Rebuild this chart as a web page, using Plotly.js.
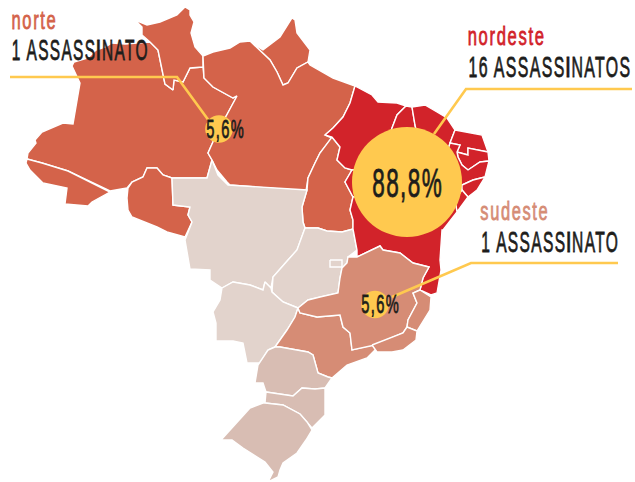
<!DOCTYPE html>
<html><head><meta charset="utf-8">
<script src="https://cdn.plot.ly/plotly-3.0.1.min.js"></script>
<style>html,body{margin:0;padding:0;background:#fff}#c{width:635px;height:482px}</style></head>
<body><div id="c"></div>
<script>
// Region data
const regionNames = ['norte','nordeste','sudeste'];
const regionKills = [1,16,1];
const regionPct = [5.6,88.8,5.6];
const regionColors = {norte:'#d4634a',nordeste:'#d2232a',sudeste:'#d68c75',centro:'#e2d3cc',sul:'#d8bdb3'};

// State outlines (x,y pairs in map units)
const RR=[135,20,147,25,160,22,177,15,185,7,190,10,190,15,194,22,191,33,195,47,203,56,203,67,190,68,183,82,174,80,173,90,165,84,162,70,158,50,150,42,142,35,142,27];
const AM=[72,66,74,62,88,58,96,50,105,47,112,43,125,44,135,43,150,42,158,50,162,70,165,84,173,90,174,80,183,82,190,68,203,67,204,78,213,87,222,92,233,98,237,96,228,113,217,133,208,153,212,160,207,178,172,178,163,175,157,168,147,168,143,177,132,182,127,188,110,191,68,171,42,163,27,159,28,153,36,143,35,140,42,132,63,123,73,124,80,83];
const AP=[252,43,263,50,280,37,292,18,295,20,297,33,310,50,308,62,297,68,288,83,283,85,277,72,270,60,260,50];
const PA=[203,56,213,52,230,48,240,42,250,41,252,43,260,50,270,60,277,72,283,85,288,83,297,68,308,62,310,65,333,78,355,86,350,103,343,117,333,128,325,135,332,138,320,153,315,163,308,178,306,191,230,185,227,182,217,170,212,160,208,153,217,133,228,113,237,96,233,98,222,92,213,87,204,78];
const RO=[172,178,173,205,190,207,188,215,192,222,185,237,167,232,157,227,132,217,128,210,127,198,128,188,132,182,143,177,147,168,157,168,163,175];
const AC=[27,159,42,163,68,171,110,192,92,202,88,206,65,204,67,188,43,183,35,175,30,170,26,163];
const TO=[332,137,340,147,337,160,345,168,352,170,345,182,353,197,350,210,353,220,353,229,342,232,327,231,318,228,305,228,303,222,302,207,307,190,308,178,315,163,320,153];
const MT=[172,178,207,178,212,160,218,175,228,185,307,190,302,207,303,222,305,228,297,250,288,260,273,277,271,288,265,282,263,290,250,285,233,282,222,288,210,280,210,270,190,269,185,240,192,222,188,215,190,207,173,205];
const GO=[305,228,318,228,327,231,342,232,353,229,357,250,348,257,347,263,342,268,340,278,338,293,320,297,308,300,298,308,283,302,272,292,273,277,288,260,297,250];
const DF=[330,260,342,260,342,267,330,267];
const MS=[222,288,233,282,250,285,263,290,265,282,271,288,272,292,283,302,298,308,295,317,287,330,275,347,268,350,260,363,247,363,243,343,233,341,216,341,216,323,213,312,220,300];
const SP=[298,308,300,313,317,317,340,315,343,327,350,333,352,350,372,345,377,348,367,358,347,365,332,378,328,377,318,373,313,355,308,352,280,347,275,347,287,330,295,317];
const MG=[298,308,300,313,317,317,340,315,343,327,350,333,352,350,375,345,403,333,407,327,408,320,417,303,413,293,420,290,423,278,429,267,413,263,400,253,383,250,380,246,357,257,348,257,347,263,342,268,340,278,338,293,320,297,308,300];
const ES=[420,290,431,297,430,310,417,331,407,327,408,320,417,303,413,293];
const RJ=[372,345,403,333,407,327,417,331,416,340,403,350,392,352,377,352];
const PR=[268,350,275,347,280,347,308,352,313,355,318,373,328,377,332,378,325,388,315,389,302,388,293,396,266,392,263,383,255,383,258,365];
const SC=[266,392,293,396,302,388,315,389,325,388,325,415,312,428,307,422,300,414,283,405,265,403];
const RS=[263,403,265,403,283,405,300,414,307,422,312,430,306,440,297,453,283,463,280,470,278,477,268,482,273,472,265,462,243,448,232,440,221,440,242,417,250,408];
const MA=[355,86,372,95,378,102,397,103,406,106,397,115,392,128,385,150,370,170,352,170,345,168,337,160,340,147,332,137,325,135,333,128,343,117,350,103];
const PI=[406,106,412,107,415,125,425,170,400,200,370,195,353,197,345,182,352,170,370,170,385,150,392,128,397,115];
const CE=[412,107,425,105,437,112,447,118,455,130,450,143,445,160,425,170,415,125];
const RN=[455,130,473,133,482,135,488,152,468,148,468,155,457,152,460,145,450,143];
const PB=[488,152,489,161,480,162,468,170,462,165,458,157,457,152,468,155,468,148];
const PE=[489,161,485,177,473,180,462,185,440,195,425,170,445,160,450,143,460,145,457,152,458,157,462,165,468,170,480,162];
const AL=[485,177,477,190,468,197,462,190,462,185,473,180];
const SE=[468,197,457,212,455,200,462,190];
const BA=[457,212,443,230,442,230,440,260,441,270,437,293,431,295,420,290,423,278,429,267,413,263,400,253,383,250,380,246,357,257,357,250,353,229,353,220,350,210,353,197,370,195,400,200,440,195,455,200];

const states=[
 [AM,'norte'],[RR,'norte'],[AP,'norte'],[PA,'norte'],[RO,'norte'],[AC,'norte'],[TO,'norte'],
 [MT,'centro'],[GO,'centro'],[DF,'centro'],[MS,'centro'],
 [MA,'nordeste'],[PI,'nordeste'],[CE,'nordeste'],[RN,'nordeste'],[PB,'nordeste'],[PE,'nordeste'],[AL,'nordeste'],[SE,'nordeste'],[BA,'nordeste'],
 [SP,'sudeste'],[MG,'sudeste'],[ES,'sudeste'],[RJ,'sudeste'],
 [PR,'sul'],[SC,'sul'],[RS,'sul']];

// Leader lines and bubble centres
const leaderNorte=[10,77,177,77,212,125];
const leaderNordeste=[632,89,466,89,434,134];
const leaderSudeste=[618,263,471,263,392,297];
const bubbleX=[219,407,375];
const bubbleY=[129,182,304.5];

const xs=a=>a.filter((_,i)=>i%2==0), ys=a=>a.filter((_,i)=>i%2==1);
const traces=[];
states.forEach(([p,r])=>{
  const x=xs(p),y=ys(p); x.push(x[0]); y.push(y[0]);
  traces.push({type:'scatter',mode:'lines',x,y,fill:'toself',fillcolor:regionColors[r],
    line:{color:'#ffffff',width:1.4},hoverinfo:'skip',showlegend:false});
});
[leaderNorte,leaderNordeste,leaderSudeste].forEach(l=>traces.push({type:'scatter',mode:'lines',x:xs(l),y:ys(l),
  line:{color:'#ffc94f',width:2.6},hoverinfo:'skip',showlegend:false}));
traces.push({type:'scatter',mode:'markers',x:bubbleX,y:bubbleY,
  marker:{size:regionPct,sizemode:'area',sizeref:2*88.8/(110*110),color:'#ffc94f',opacity:1,line:{width:0}},hoverinfo:'skip',showlegend:false});

const ink='#1d1d1b';
const fmt=v=>v.toFixed(1).replace('.',',')+'%';
const kills=k=>k+' ASSASS<b>I</b>NATO'+(k>1?'S':'');
const font='"Liberation Sans Narrow","Liberation Sans",sans-serif';
const ann=(x,y,text,size,color,w)=>({xref:'x',yref:'y',x,y,text,showarrow:false,xanchor:'center',yanchor:'middle',
  font:{family:font,size,color},_w:w});
const annotations=[
 ann(34,20,regionNames[0],25,regionColors.norte,46),
 ann(80.5,50,kills(regionKills[0]),29,ink,137),
 ann(506.5,36,regionNames[1],25,regionColors.nordeste,78),
 ann(549.5,66.5,kills(regionKills[1]),29,ink,163),
 ann(514.5,211,regionNames[2],25,regionColors.sudeste,69),
 ann(550,242,kills(regionKills[2]),29,ink,138),
 ann(225.5,129,fmt(regionPct[0]),26,ink,39),
 ann(407.5,183,fmt(regionPct[1]),40,ink,71),
 ann(380.5,304,fmt(regionPct[2]),26,ink,39)];
const widths=annotations.map(a=>a._w);
annotations.forEach(a=>delete a._w);

const layout={width:635,height:482,margin:{l:0,r:0,t:0,b:0},paper_bgcolor:'#fff',plot_bgcolor:'#fff',showlegend:false,
  xaxis:{range:[0,635],visible:false,fixedrange:true},
  yaxis:{range:[482,0],visible:false,fixedrange:true},annotations};
Plotly.newPlot('c',traces,layout,{displayModeBar:false,staticPlot:true}).then(()=>{
  document.querySelectorAll('.annotation-text').forEach((t,i)=>{
    t.style.letterSpacing='2.5px';
    const b=t.getBBox(), cx=b.x+b.width/2, s=widths[i]/b.width;
    t.setAttribute('transform',`translate(${cx} 0) scale(${s} 1) translate(${-cx} 0)`);
    t.style.stroke=t.style.fill;
    t.style.strokeWidth='0.8px';
  });
});
</script></body></html>
